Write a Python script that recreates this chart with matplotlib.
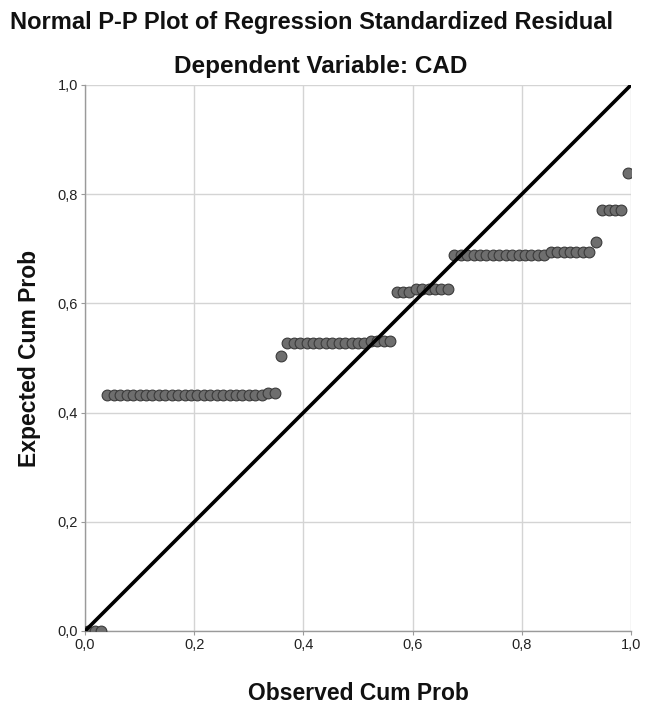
import matplotlib
matplotlib.use("Agg")
import matplotlib.pyplot as plt
from matplotlib.ticker import FuncFormatter

plt.rcParams['font.family'] = ['Liberation Sans', 'DejaVu Sans']

# Observed cumulative probability (85 cases)
observed = [
    0.0059, 0.0176, 0.0294, 0.0412, 0.0529, 0.0647, 0.0765, 0.0882, 0.1000, 0.1118,
    0.1235, 0.1353, 0.1471, 0.1588, 0.1706, 0.1824, 0.1941, 0.2059, 0.2176, 0.2294,
    0.2412, 0.2529, 0.2647, 0.2765, 0.2882, 0.3000, 0.3118, 0.3235, 0.3353, 0.3471,
    0.3588, 0.3706, 0.3824, 0.3941, 0.4059, 0.4176, 0.4294, 0.4412, 0.4529, 0.4647,
    0.4765, 0.4882, 0.5000, 0.5118, 0.5235, 0.5353, 0.5471, 0.5588, 0.5706, 0.5824,
    0.5941, 0.6059, 0.6176, 0.6294, 0.6412, 0.6529, 0.6647, 0.6765, 0.6882, 0.7000,
    0.7118, 0.7235, 0.7353, 0.7471, 0.7588, 0.7706, 0.7824, 0.7941, 0.8059, 0.8176,
    0.8294, 0.8412, 0.8529, 0.8647, 0.8765, 0.8882, 0.9000, 0.9118, 0.9235, 0.9353,
    0.9471, 0.9588, 0.9706, 0.9824, 0.9941,
]

# Expected cumulative probability
expected = [
    0.000, 0.000, 0.000, 0.432, 0.432, 0.432, 0.432, 0.432, 0.432, 0.432,
    0.432, 0.432, 0.432, 0.432, 0.432, 0.432, 0.432, 0.432, 0.432, 0.432,
    0.432, 0.432, 0.432, 0.432, 0.432, 0.432, 0.432, 0.432, 0.436, 0.436,
    0.503, 0.527, 0.527, 0.527, 0.527, 0.527, 0.527, 0.527, 0.527, 0.527,
    0.527, 0.527, 0.527, 0.527, 0.532, 0.532, 0.532, 0.532, 0.621, 0.621,
    0.621, 0.626, 0.626, 0.626, 0.626, 0.626, 0.626, 0.689, 0.689, 0.689,
    0.689, 0.689, 0.689, 0.689, 0.689, 0.689, 0.689, 0.689, 0.689, 0.689,
    0.689, 0.689, 0.694, 0.694, 0.694, 0.694, 0.694, 0.694, 0.694, 0.713,
    0.771, 0.771, 0.771, 0.771, 0.839,
]

ticks = [0.0, 0.2, 0.4, 0.6, 0.8, 1.0]

fig = plt.figure(figsize=(6.45, 7.06), dpi=100)
ax = fig.add_axes([85/645, 75/706, 546/645, 546/706])

ax.set_xlim(0, 1)
ax.set_ylim(0, 1)
ax.set_xticks(ticks)
ax.set_yticks(ticks)
fmt = FuncFormatter(lambda v, p: f"{v:.1f}".replace(".", ","))
ax.xaxis.set_major_formatter(fmt)
ax.yaxis.set_major_formatter(fmt)

ax.grid(True, color='#d4d4d4', linewidth=1.0)
ax.set_axisbelow(True)
for s in ['top', 'right']:
    ax.spines[s].set_visible(False)
for s in ['left', 'bottom']:
    ax.spines[s].set_color('#9a9a9a')
    ax.spines[s].set_linewidth(1.0)
ax.tick_params(axis='both', length=3, color='#9a9a9a', labelsize=10.5,
               labelcolor='#222222', pad=2)

ax.scatter(observed, expected, s=60, facecolor='#6e6e6e', edgecolor='#3a3a3a',
           linewidth=0.8, zorder=3)
ax.plot([0, 1], [0, 1], color='black', linewidth=2.6, zorder=4, solid_capstyle='butt')

fig.text(311/645, 1 - 22/706, "Normal P-P Plot of Regression Standardized Residual",
         ha='center', va='center', fontsize=17, fontweight='bold', color='#111111')
fig.text(321/645, 1 - 66/706, "Dependent Variable: CAD",
         ha='center', va='center', fontsize=17.5, fontweight='bold', color='#111111')

ax.set_xlabel("Observed Cum Prob", fontsize=16.5, fontweight='bold', labelpad=22, color='#111111')
ax.set_ylabel("Expected Cum Prob", fontsize=16.5, fontweight='bold', labelpad=12, color='#111111')

fig.savefig("out.png", dpi=100, facecolor='white')
